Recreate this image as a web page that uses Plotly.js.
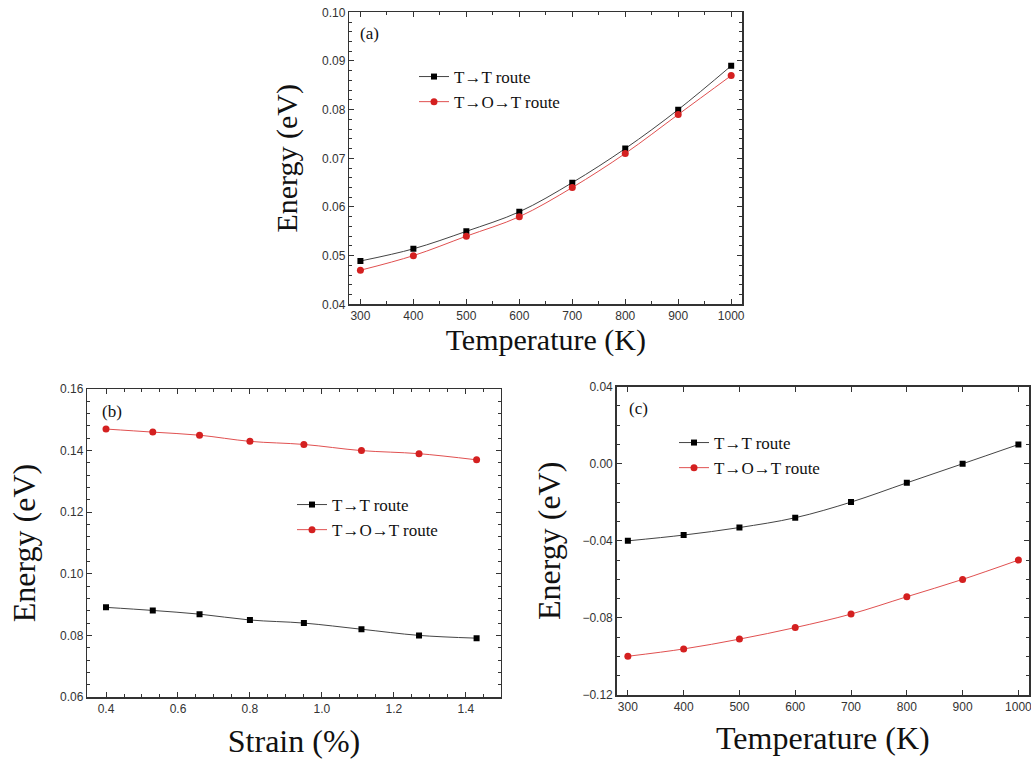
<!DOCTYPE html>
<html><head><meta charset="utf-8">
<script src="https://cdn.plot.ly/plotly-3.0.1.min.js"></script>
<style>body{margin:0;background:#fff}#chart{width:1031px;height:763px}</style>
</head><body><div id="chart"></div>
<script>
// Panel (a): energy vs temperature
const tempA = [300, 400, 500, 600, 700, 800, 900, 1000];
const aTT = [0.0489, 0.0514, 0.0550, 0.0590, 0.0650, 0.0720, 0.0800, 0.0890];
const aTOT = [0.0470, 0.0500, 0.0540, 0.0580, 0.0640, 0.0710, 0.0790, 0.0870];
// Panel (b): energy vs strain
const strainB = [0.40, 0.53, 0.66, 0.80, 0.95, 1.11, 1.27, 1.43];
const bTT = [0.0891, 0.0881, 0.0869, 0.0850, 0.0840, 0.0820, 0.0800, 0.0791];
const bTOT = [0.1470, 0.1460, 0.1450, 0.1430, 0.1420, 0.1400, 0.1390, 0.1370];
// Panel (c): energy vs temperature
const tempC = [300, 400, 500, 600, 700, 800, 900, 1000];
const cTT = [-0.0400, -0.0370, -0.0331, -0.0280, -0.0199, -0.0099, 0.0000, 0.0100];
const cTOT = [-0.0999, -0.0961, -0.0910, -0.0850, -0.0780, -0.0690, -0.0600, -0.0500];
const seriesNames = ['T\u2192T route', 'T\u2192O\u2192T route'];
const panelLabels = ['(a)', '(b)', '(c)'];

const W = 1031, H = 763;
const px = v => v / W, py = v => 1 - v / H;
const serif = 'Liberation Serif, Times New Roman, serif';
const sans = 'Liberation Sans, Arial, sans-serif';

function blackTrace(x, y, xa, ya, lg) {
  return {x, y, xaxis: xa, yaxis: ya, legend: lg, name: seriesNames[0], mode: 'lines+markers',
    line: {color: '#444', width: 1, shape: 'spline'},
    marker: {symbol: 'square', size: 6, color: '#000'}};
}
function redTrace(x, y, xa, ya, lg) {
  return {x, y, xaxis: xa, yaxis: ya, legend: lg, name: seriesNames[1], mode: 'lines+markers',
    line: {color: '#e05050', width: 1, shape: 'spline'},
    marker: {symbol: 'circle', size: 7, color: '#d42020'}};
}
const data = [
  blackTrace(tempA, aTT, 'x', 'y', 'legend'), redTrace(tempA, aTOT, 'x', 'y', 'legend'),
  blackTrace(strainB, bTT, 'x2', 'y2', 'legend2'), redTrace(strainB, bTOT, 'x2', 'y2', 'legend2'),
  blackTrace(tempC, cTT, 'x3', 'y3', 'legend3'), redTrace(tempC, cTOT, 'x3', 'y3', 'legend3')
];

function axis(dom, range, dtick, minor, fmt, title, tsize, standoff, anchor) {
  const ax = {domain: dom, range, dtick, tick0: 0, tickformat: fmt, anchor,
    showline: true, linecolor: '#333', linewidth: 1.5, mirror: 'ticks', showgrid: false, zeroline: false,
    ticks: 'inside', ticklen: 5, tickwidth: 1, tickcolor: '#333', ticklabeloverflow: 'allow',
    tickfont: {family: sans, size: 12, color: '#333'},
    title: {text: title, font: {family: serif, size: tsize, color: '#111'}, standoff}};
  if (minor) ax.minor = {dtick: minor, ticks: 'inside', ticklen: 3, tickwidth: 1, tickcolor: '#333', showgrid: false};
  return ax;
}
function legend(xl, yt) {
  return {x: px(xl), y: py(yt), xanchor: 'left', yanchor: 'top', bgcolor: 'rgba(0,0,0,0)',
    borderwidth: 0, font: {family: serif, size: 17, color: '#111'}, tracegroupgap: 0, itemwidth: 30};
}
const layout = {
  width: W, height: H, margin: {l: 0, r: 0, t: 0, b: 0},
  paper_bgcolor: '#fff', plot_bgcolor: '#fff', showlegend: true,
  xaxis: axis([px(349.3), px(742.3)], [279, 1021], 100, 50, 'd', 'Temperature (K)', 30, 4, 'y'),
  yaxis: axis([py(304.3), py(12.3)], [0.04, 0.10], 0.01, 0.002, '.2f', 'Energy (eV)', 30, 15, 'x'),
  xaxis2: axis([px(87.3), px(500.7)], [0.348, 1.497], 0.2, 0.05, '.1f', 'Strain (%)', 32, 14, 'y2'),
  yaxis2: axis([py(697), py(389)], [0.06, 0.16], 0.02, 0.004, '.2f', 'Energy (eV)', 32, 15, 'x2'),
  xaxis3: axis([px(616.7), px(1029)], [280, 1019], 100, null, 'd', 'Temperature (K)', 32, 13, 'y3'),
  yaxis3: axis([py(695), py(386.7)], [-0.12, 0.04], 0.04, 0.01, '.2f', 'Energy (eV)', 32, 12, 'x3'),
  legend: legend(414, 59),
  legend2: legend(292, 487),
  legend3: legend(674, 425),
  annotations: [
    {text: panelLabels[0], x: px(358), y: py(33), xref: 'paper', yref: 'paper', xanchor: 'left', yanchor: 'middle', showarrow: false, font: {family: serif, size: 17, color: '#111'}},
    {text: panelLabels[1], x: px(100), y: py(412), xref: 'paper', yref: 'paper', xanchor: 'left', yanchor: 'middle', showarrow: false, font: {family: serif, size: 17, color: '#111'}},
    {text: panelLabels[2], x: px(627), y: py(408), xref: 'paper', yref: 'paper', xanchor: 'left', yanchor: 'middle', showarrow: false, font: {family: serif, size: 17, color: '#111'}}
  ]
};
Plotly.newPlot('chart', data, layout, {staticPlot: true, displayModeBar: false});
</script></body></html>
